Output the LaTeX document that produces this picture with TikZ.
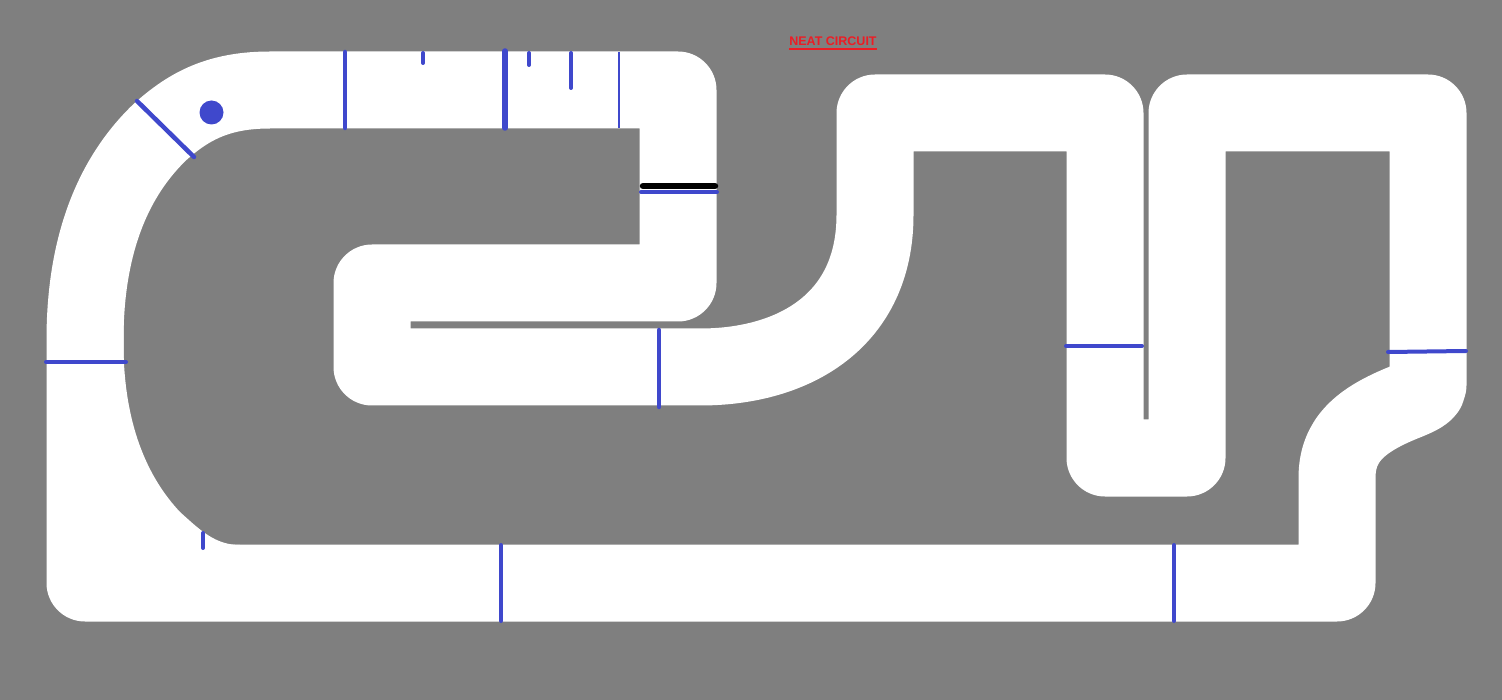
\documentclass[tikz,border=0pt]{standalone}
\usepackage{fontspec}
\setmainfont{Liberation Sans}
\definecolor{bg}{RGB}{127,127,127}
\definecolor{markblue}{RGB}{63,72,204}
\definecolor{titlered}{RGB}{237,28,36}
\tikzset{
  track/.style={draw=white, line width=77pt, line join=round, line cap=round},
  gate/.style={draw=markblue, line width=4.5pt, line cap=round},
  thingate/.style={draw=markblue, line width=2pt},
  tick/.style={draw=markblue, line width=4pt, line cap=round},
}
\begin{document}
\begin{tikzpicture}[x=1pt,y=-1pt]
\fill[bg] (0,0) rectangle (1502,700);
\useasboundingbox (0,0) rectangle (1502,700);
% track centreline
\draw[track] (400,90) -- (678,90) -- (678,283) -- (372,283) -- (372,367) -- (700,367)
  .. controls (795,367) and (875,320) .. (875,215) -- (875,113) -- (1105,113) -- (1105,458)
  -- (1187,458) -- (1187,113) -- (1428,113) -- (1428,385)
  .. controls (1428,392) and (1420,396) .. (1405,402)
  .. controls (1360,420) and (1337,440) .. (1337,478) -- (1337,583) -- (85,583) -- (85,340)
  .. controls (85,250) and (110,180) .. (160,132) .. controls (190,105) and (220,90) .. (270,90) -- cycle;
% widened bottom-left corner
\fill[white] (85,583) -- (85,300) -- (123.5,300) -- (123.5,350) .. controls (125,430) and (150,480) .. (180,512)
  .. controls (200,530) and (215,545) .. (240,545) -- (240,583) -- cycle;
% markers
\draw[gate] (345,52) -- (345,128);
\draw[tick] (423,53) -- (423,63);
\draw[gate, line width=5.5pt] (505,51) -- (505,128);
\draw[tick] (529,53) -- (529,65);
\draw[tick] (571,53) -- (571,88);
\draw[thingate] (619,52) -- (619,128);
\draw[gate] (137,101) -- (194,157);
\fill[markblue] (211.5,112.5) circle (12);
\draw[tick] (46,362) -- (126,362);
\draw[black, line width=6.5pt, line cap=round] (643,186) -- (715,186);
\draw[tick] (641,192) -- (717,192);
\draw[gate] (659,330) -- (659,407);
\draw[tick] (1066,346) -- (1142,346);
\draw[tick] (1388,352) -- (1466,351);
\draw[tick] (203,533) -- (203,548);
\draw[tick] (501,545) -- (501,621);
\draw[tick] (1174,545) -- (1174,621);
% title
\node[inner sep=0pt, text=titlered, font=\fontsize{12.5}{14}\selectfont\bfseries, anchor=base] (title) at (833,46) {NEAT CIRCUIT};
\draw[titlered, line width=1.5pt] ([yshift=-3pt]title.base west) -- ([yshift=-3pt]title.base east);
\end{tikzpicture}
\end{document}
